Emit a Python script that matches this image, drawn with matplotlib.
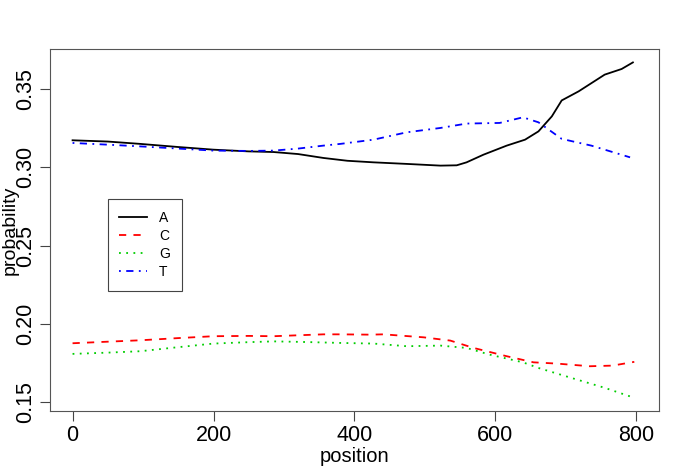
import numpy as np
import matplotlib
matplotlib.use("Agg")
import matplotlib.pyplot as plt

plt.rcParams['font.family'] = ['Liberation Sans', 'DejaVu Sans']

# ---- data ----
pos_a = [0, 50, 96, 150, 200, 250, 285, 320, 356, 390, 427, 474, 522, 545, 559, 583,
         616, 642, 661, 680, 694, 718, 755, 779, 795]
prob_a = [0.3173, 0.3165, 0.3150, 0.3130, 0.3113, 0.3102, 0.3098, 0.3085, 0.3060, 0.3042,
          0.3032, 0.3022, 0.3011, 0.3013, 0.3032, 0.3081, 0.3139, 0.3177, 0.3230, 0.3326,
          0.3428, 0.3486, 0.3593, 0.3629, 0.3671]

pos_c = [0, 50, 96, 150, 200, 250, 285, 320, 356, 380, 422, 441, 498, 536, 569, 616,
         654, 687, 734, 766, 797]
prob_c = [0.1875, 0.1885, 0.1894, 0.1908, 0.1920, 0.1922, 0.1920, 0.1926, 0.1932, 0.1932,
          0.1930, 0.1932, 0.1913, 0.1892, 0.1845, 0.1792, 0.1753, 0.1745, 0.1728, 0.1732,
          0.1756]

pos_g = [0, 50, 96, 150, 200, 250, 285, 320, 356, 380, 427, 474, 522, 559, 592, 639,
         661, 708, 755, 793]
prob_g = [0.1807, 0.1815, 0.1824, 0.1850, 0.1873, 0.1882, 0.1887, 0.1884, 0.1880, 0.1877,
          0.1873, 0.1856, 0.1860, 0.1845, 0.1802, 0.1753, 0.1717, 0.1653, 0.1590, 0.1532]

pos_t = [0, 50, 96, 150, 200, 250, 285, 320, 356, 380, 427, 474, 522, 559, 606, 639,
         661, 694, 736, 791]
prob_t = [0.3156, 0.3145, 0.3134, 0.3120, 0.3107, 0.3105, 0.3107, 0.3120, 0.3139, 0.3150,
          0.3177, 0.3224, 0.3252, 0.3280, 0.3284, 0.3320, 0.3288, 0.3182, 0.3139, 0.3064]

labels = ["A", "C", "G", "T"]
x_ticks = [0, 200, 400, 600, 800]
y_ticks = [0.15, 0.20, 0.25, 0.30, 0.35]

# ---- plot ----
fig = plt.figure(figsize=(6.85, 4.74), dpi=100)
ax = fig.add_axes([0.073, 0.133, 0.889, 0.764])

lw = 1.3
ax.plot(pos_a, prob_a, color="black", lw=lw, label=labels[0])
ax.plot(pos_c, prob_c, color="#FF0000", lw=lw, dashes=(4, 4), label=labels[1])
ax.plot(pos_g, prob_g, color="#00CD00", lw=lw, dashes=(1, 3), label=labels[2])
ax.plot(pos_t, prob_t, color="#0000FF", lw=lw, dashes=(1, 3, 4, 3), label=labels[3])

ax.set_xlim(-32, 832)
ax.set_ylim(0.1442, 0.3758)
ax.set_xticks(x_ticks)
ax.set_yticks(y_ticks)
ax.set_yticklabels([f"{v:.2f}" for v in y_ticks], rotation=90, va="center")
ax.tick_params(axis="both", labelsize=15.5, length=7, width=0.8, color="#444444")
ax.tick_params(axis="x", pad=3)
ax.tick_params(axis="y", pad=3)
for s in ax.spines.values():
    s.set_color("#555555")
    s.set_linewidth(0.8)

ax.set_xlabel("position", fontsize=14.5, labelpad=1)
ax.set_ylabel("probability", fontsize=14)
ax.yaxis.set_label_coords(-0.052, 0.5)

leg = ax.legend(loc="upper left", bbox_to_anchor=(0.0947, 0.5856), fontsize=10,
                fancybox=False, framealpha=1, edgecolor="#444444",
                handlelength=2.0, handletextpad=0.85, labelspacing=0.3,
                borderpad=0.85, borderaxespad=0)
leg.get_frame().set_linewidth(0.8)

fig.savefig("out.png", dpi=100)
